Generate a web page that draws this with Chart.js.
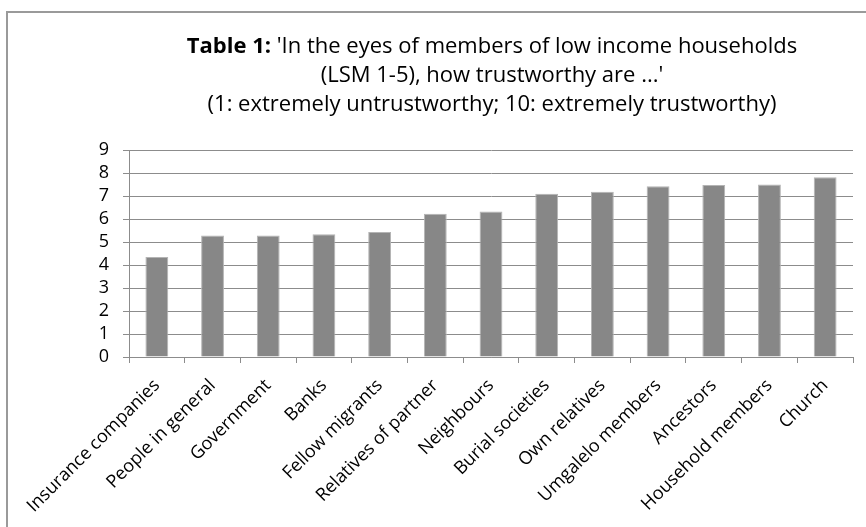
<!DOCTYPE html>
<html>
<head>
<meta charset="utf-8">
<script src="https://cdn.jsdelivr.net/npm/chart.js@4.4.1/dist/chart.umd.min.js"></script>
<style>
  html, body { margin: 0; padding: 0; background: #fff; overflow: hidden; }
  #wrap { position: relative; width: 866px; height: 527px; }
  #frame { position: absolute; left: 6px; top: 11px; right: -10px; bottom: -10px;
           border-left: 2px solid #9a9a9a; border-top: 2px solid #9a9a9a; }
  canvas { position: absolute; left: 0; top: 0; }
</style>
</head>
<body>
<div id="wrap">
  <div id="frame"></div>
  <canvas id="trustChart" width="866" height="527"></canvas>
</div>
<script>
// data
const categories = ['Insurance companies', 'People in general', 'Government', 'Banks', 'Fellow migrants',
    'Relatives of partner', 'Neighbours', 'Burial societies', 'Own relatives', 'Umgalelo members',
    'Ancestors', 'Household members', 'Church'];
const trustScores = [4.35, 5.28, 5.28, 5.34, 5.43, 6.23, 6.33, 7.10, 7.19, 7.42, 7.48, 7.50, 7.82];
const yMin = 0;
const yMax = 9;
const yStep = 1;

const titleLines = [
    { bold: 'Table 1:', text: " 'In the eyes of members of low income households" },
    { bold: '', text: "(LSM 1-5), how trustworthy are ...'" },
    { bold: '', text: '(1: extremely untrustworthy; 10: extremely trustworthy)' }
];

const FONT = "'Open Sans', 'Liberation Sans', sans-serif";
const TITLE_SIZE = 22;

// title with a bold lead-in, drawn on the canvas
const titlePlugin = {
    id: 'mixedTitle',
    afterDraw(chart) {
        const ctx = chart.ctx;
        const cx = 492;
        const baselines = [53, 82, 111];
        ctx.save();
        ctx.fillStyle = '#000';
        ctx.textBaseline = 'alphabetic';
        titleLines.forEach((line, i) => {
            ctx.font = 'bold ' + TITLE_SIZE + 'px ' + FONT;
            const wb = line.bold ? ctx.measureText(line.bold).width : 0;
            ctx.font = TITLE_SIZE + 'px ' + FONT;
            const wt = ctx.measureText(line.text).width;
            let x = cx - (wb + wt) / 2;
            if (line.bold) {
                ctx.font = 'bold ' + TITLE_SIZE + 'px ' + FONT;
                ctx.fillText(line.bold, x, baselines[i]);
                x += wb;
            }
            ctx.font = TITLE_SIZE + 'px ' + FONT;
            ctx.fillText(line.text, x, baselines[i]);
        });
        ctx.restore();
    }
};

new Chart(document.getElementById('trustChart').getContext('2d'), {
    type: 'bar',
    data: {
        labels: categories,
        datasets: [{
            data: trustScores,
            backgroundColor: '#878787',
            borderColor: '#b4b4b4',
            borderWidth: 1,
            categoryPercentage: 1,
            barPercentage: 0.41
        }]
    },
    options: {
        responsive: false,
        animation: false,
        layout: { padding: { top: 150, left: 10, right: 13, bottom: 0 } },
        plugins: {
            legend: { display: false },
            tooltip: { enabled: false }
        },
        scales: {
            x: {
                offset: true,
                grid: { display: true, drawOnChartArea: false, offset: true, tickLength: 6, color: '#8c8c8c' },
                border: { color: '#8c8c8c', width: 1 },
                ticks: {
                    color: '#000',
                    font: { family: FONT, size: 18 },
                    minRotation: 45,
                    maxRotation: 45,
                    padding: 12,
                    autoSkip: false
                },
                afterFit(scale) { scale.height = 170; }
            },
            y: {
                min: yMin,
                max: yMax,
                grid: { color: '#8c8c8c', tickLength: 6 },
                border: { color: '#8c8c8c', width: 1 },
                ticks: {
                    stepSize: yStep,
                    autoSkip: false,
                    color: '#000',
                    font: { family: FONT, size: 18 },
                    padding: 14
                },
                afterFit(scale) { scale.width = 119; }
            }
        }
    },
    plugins: [titlePlugin]
});
</script>
</body>
</html>
